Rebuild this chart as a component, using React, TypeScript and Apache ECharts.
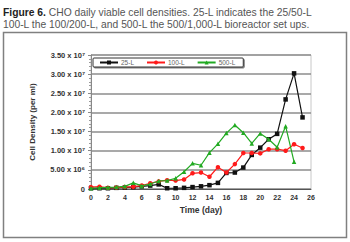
import React, { useEffect, useRef } from "react";
import * as echarts from "echarts";

const days = [0,1,2,3,4,5,6,7,8,9,10,11,12,13,14,15,16,17,18,19,20,21,22,23,24,25];
// values in units of 10^7 cells/ml
const series25L = [0.02,0.02,0.02,0.03,0.04,0.05,0.07,0.09,0.12,0.02,0.02,0.03,0.05,0.07,0.10,0.16,0.42,0.43,0.56,0.89,1.08,1.30,1.44,2.34,3.02,1.87];
const series100L = [0.05,0.06,0.03,0.04,0.05,0.06,0.09,0.15,0.20,0.23,0.22,0.25,0.41,0.43,0.32,0.57,0.43,0.65,0.94,0.94,0.93,1.04,1.04,1.00,1.17,1.07];
const series500L = [0.02,0.03,0.04,0.05,0.07,0.16,0.08,0.13,0.21,0.22,0.28,0.45,0.67,0.62,0.95,1.18,1.46,1.67,1.47,1.19,1.45,1.30,1.09,1.64,0.71];
const seriesNames = ["25-L", "100-L", "500-L"];
const seriesColors = ["#111111", "#ff1a1a", "#22aa22"];
const seriesSymbols = ["rect", "circle", "triangle"];
const captionBold = "Figure 6.";
const captionLine1 = " CHO daily viable cell densities. 25-L indicates the 25/50-L";
const captionLine2 = "100-L the 100/200-L, and 500-L the 500/1,000-L bioreactor set ups.";
const yAxisTitle = "Cell Density (per ml)";
const xAxisTitle = "Time (day)";

const sup = (n: number) => (n === 7 ? "\u2077" : "\u2076");
const fmtY = (v: number) => {
  if (v === 0) return "0";
  if (v < 1) return (v * 10).toFixed(2) + " x 10" + sup(6);
  return v.toFixed(2) + " x 10" + sup(7);
};

export default function App() {
  const ref = useRef<HTMLDivElement>(null);
  useEffect(() => {
    const chart = echarts.init(ref.current!, undefined, { renderer: "svg" });
    const allData = [series25L, series100L, series500L];
    chart.setOption({
      animation: false,
      backgroundColor: "#ffffff",
      textStyle: { fontFamily: "Liberation Sans" },
      graphic: [
        {
          type: "rect",
          shape: { x: 3.5, y: 32.5, width: 343, height: 205 },
          style: { fill: "none", stroke: "#808080", lineWidth: 1.5 },
          z: 0,
        },
        {
          type: "rect",
          shape: { x: 91, y: 55, width: 220, height: 134 },
          style: { fill: "none", stroke: "#c8c8c8", lineWidth: 1 },
          z: 0,
        },
        {
          type: "text",
          x: 3,
          y: 7,
          style: {
            text: "{b|" + captionBold + "}{r|" + captionLine1 + "}",
            rich: {
              b: { fontFamily: "Liberation Sans", fontWeight: "bold", fontSize: 10.3, fill: "#222" },
              r: { fontFamily: "Liberation Sans", fontSize: 10.3, fill: "#555" },
            },
          },
        },
        {
          type: "text",
          x: 3,
          y: 19,
          style: {
            text: captionLine2,
            fontFamily: "Liberation Sans",
            fontSize: 10.3,
            fill: "#555",
          },
        },
      ],
      legend: {
        left: 93,
        top: 58,
        data: seriesNames,
        orient: "horizontal",
        itemWidth: 18,
        itemHeight: 5,
        itemGap: 12,
        padding: [1, 8, 1, 6],
        backgroundColor: "#ffffff",
        borderColor: "#333333",
        borderWidth: 1,
        borderRadius: 1,
        shadowColor: "rgba(0,0,0,0.5)",
        shadowOffsetX: 1,
        shadowOffsetY: 1,
        shadowBlur: 0,
        textStyle: { fontSize: 6.5, color: "#666", padding: [0, 0, 0, -2] },
        z: 10,
      },
      grid: { left: 91, right: 39, top: 55, bottom: 53, containLabel: false },
      xAxis: {
        type: "value",
        min: 0,
        max: 26,
        interval: 2,
        name: xAxisTitle,
        nameLocation: "middle",
        nameGap: 15,
        nameTextStyle: { fontSize: 8.5, fontWeight: "bold", color: "#333" },
        axisLine: { show: true, lineStyle: { color: "#555", width: 1 } },
        axisTick: { show: false },
        axisLabel: { fontSize: 7, fontWeight: "bold", color: "#333", margin: 5 },
        splitLine: { show: false },
      },
      yAxis: {
        type: "value",
        min: 0,
        max: 3.5,
        interval: 0.5,
        name: yAxisTitle,
        nameLocation: "middle",
        nameGap: 55,
        nameRotate: 90,
        nameTextStyle: { fontSize: 8, fontWeight: "bold", color: "#333" },
        axisLine: { show: true, lineStyle: { color: "#888", width: 1 } },
        axisTick: { show: true, length: 3, lineStyle: { color: "#888" } },
        minorTick: { show: true, splitNumber: 5, length: 2, lineStyle: { color: "#999" } },
        axisLabel: {
          fontSize: 7.5,
          fontWeight: "bold",
          color: "#333",
          margin: 6,
          formatter: (v: number) => fmtY(v),
        },
        splitLine: { show: true, lineStyle: { color: "#8c8c8c", width: 1.5 } },
      },
      series: allData.map((arr, i) => ({
        name: seriesNames[i],
        type: "line",
        data: arr.map((v, j) => [days[j], v]),
        symbol: seriesSymbols[i],
        symbolSize: 4.5,
        showSymbol: true,
        lineStyle: { color: seriesColors[i], width: 1.2 },
        itemStyle: { color: seriesColors[i] },
        z: 3 + i,
      })),
    });
    return () => chart.dispose();
  }, []);
  return <div ref={ref} style={{ width: 350, height: 242, position: "absolute", left: 0, top: 0 }} />;
}
